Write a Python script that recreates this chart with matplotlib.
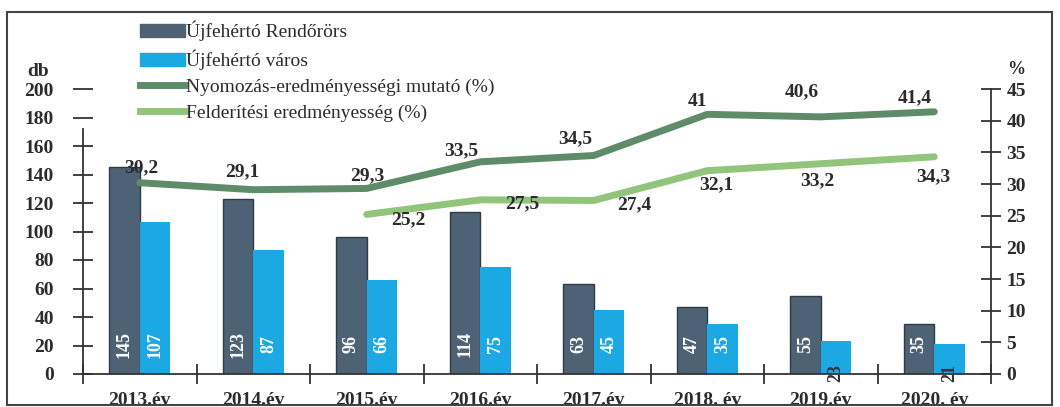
import numpy as np
import matplotlib.pyplot as plt
from matplotlib.patches import Patch, Rectangle
from matplotlib.lines import Line2D

plt.rcParams['font.family'] = ['Liberation Serif', 'DejaVu Serif']

years = ['2013.év', '2014.év', '2015.év', '2016.év', '2017.év', '2018. év', '2019.év', '2020. év']
rendorors = [145, 123, 96, 114, 63, 47, 55, 35]
varos = [107, 87, 66, 75, 45, 35, 23, 21]
nyomozas = [30.2, 29.1, 29.3, 33.5, 34.5, 41, 40.6, 41.4]
felderitesi = [np.nan, np.nan, 25.2, 27.5, 27.4, 32.1, 33.2, 34.3]

# label offsets in pixels (dx, dy) relative to the line points
nyom_off = [(2, 15), (-11, 18), (0, 13), (-19, 11), (-19, 17), (-10, 13), (-19, 25), (-19, 14)]
feld_off = [None, None, (42, -5), (42, -4), (40, -4), (9, -14), (-3, -17), (-1, -20)]

c_dark = '#4d6275'
c_light = '#1ca8e2'
c_g1 = '#5e8c68'
c_g2 = '#92c47c'
c_txt = '#2b2b2b'

fig = plt.figure(figsize=(10.6, 4.07), dpi=100)
W, H = 1060, 407
ax = fig.add_axes([83 / W, 1 - 374 / H, (991 - 83) / W, (374 - 89) / H])
ax2 = ax.twinx()

x = np.arange(len(years))
bw = 0.27
ax.bar(x - bw / 2, rendorors, bw, color=c_dark, edgecolor='#2e3a44', linewidth=1.0, zorder=2)
ax.bar(x + bw / 2, varos, bw, color=c_light, zorder=2)

for i in range(len(x)):
    for xi, v in ((x[i] - bw / 2, rendorors[i]), (x[i] + bw / 2, varos[i])):
        if v > 30:
            yc, col = 21, 'white'
        else:
            yc, col = 0.5, '#333333'
        ax.text(xi, yc, str(v), rotation=90, ha='center', va='center', color=col,
                fontsize=13, fontweight='bold', zorder=5)

ax.set_xlim(-0.5, len(x) - 0.5)
ax.set_ylim(0, 200)
ax.set_yticks(np.arange(0, 201, 20))
ax.set_xticks(x)
ax.set_xticklabels(years, fontsize=14, fontweight='bold', color=c_txt)
ax.set_xticks(np.arange(-0.5, len(x), 1), minor=True)
ax.tick_params(axis='x', which='major', length=0, pad=13)
ax.tick_params(axis='x', which='minor', direction='inout', length=14, width=1.3, color='#333333')
ax.tick_params(axis='y', direction='inout', length=14, width=1.3, color='#333333',
               labelsize=14, pad=14, labelcolor=c_txt)
for lbl in ax.get_yticklabels():
    lbl.set_fontweight('bold')

ax2.plot(x, nyomozas, color=c_g1, lw=5, solid_capstyle='round', zorder=3)
ax2.plot(x, felderitesi, color=c_g2, lw=5, solid_capstyle='round', zorder=3)
for i in range(len(x)):
    dx, dy = nyom_off[i]
    ax2.annotate(f'{nyomozas[i]:g}'.replace('.', ','), (x[i], nyomozas[i]), xytext=(dx, dy),
                 textcoords='offset pixels', ha='center', va='center', fontsize=14,
                 fontweight='bold', color=c_txt)
    if feld_off[i] is not None:
        dx, dy = feld_off[i]
        ax2.annotate(f'{felderitesi[i]:g}'.replace('.', ','), (x[i], felderitesi[i]), xytext=(dx, dy),
                     textcoords='offset pixels', ha='center', va='center', fontsize=14,
                     fontweight='bold', color=c_txt)
ax2.set_ylim(0, 45)
ax2.set_yticks(np.arange(0, 46, 5))
ax2.tick_params(axis='y', direction='inout', length=14, width=1.3, color='#333333',
                labelsize=14, pad=4, labelcolor=c_txt)
for lbl in ax2.get_yticklabels():
    lbl.set_fontweight('bold')

for a in (ax, ax2):
    a.spines['top'].set_visible(False)
    for s in ('left', 'right', 'bottom'):
        a.spines[s].set_color('#333333')
        a.spines[s].set_linewidth(1.3)
ax.spines['right'].set_visible(False)
ax2.spines['left'].set_visible(False)
ax2.spines['bottom'].set_visible(False)
ax.spines['left'].set_bounds(0, 172)
ax.set_zorder(ax2.get_zorder() - 1)
ax.patch.set_visible(False)

fig.text(27 / W, 1 - 72 / H, 'db', fontsize=14, fontweight='bold', color=c_txt, va='center')
fig.text(1007 / W, 1 - 70 / H, '%', fontsize=13, fontweight='bold', color=c_txt, va='center')

handles = [Patch(color=c_dark), Patch(color=c_light),
           Line2D([], [], color=c_g1, lw=5), Line2D([], [], color=c_g2, lw=5)]
labels = ['Újfehértó Rendőrörs', 'Újfehértó város',
          'Nyomozás-eredményességi mutató (%)', 'Felderítési eredményesség (%)']
fig.legend(handles, labels, loc='upper left', bbox_to_anchor=(132 / W, 1 - 13 / H),
           frameon=False, fontsize=14, handlelength=2.3, handletextpad=0.1,
           labelspacing=0.43, borderaxespad=0, labelcolor=c_txt)

fig.patches.append(Rectangle((7 / W, 1 - 405 / H), (1052 - 7) / W, (405 - 12) / H,
                             transform=fig.transFigure, fill=False, edgecolor='#444444',
                             linewidth=1.5, zorder=10))

fig.savefig('out.png', dpi=100)
